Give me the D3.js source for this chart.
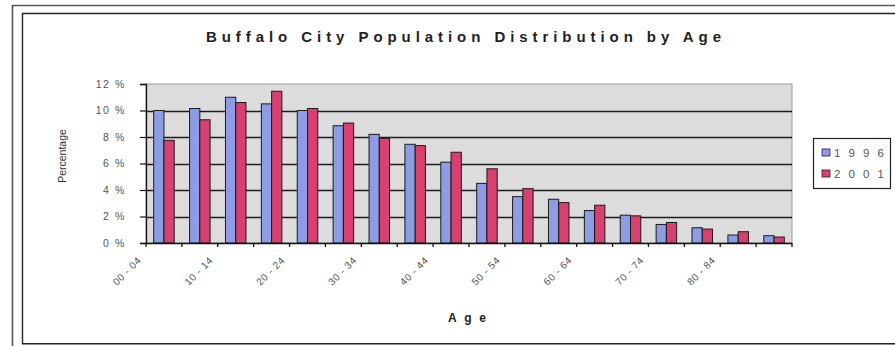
<!DOCTYPE html>
<html>
<head>
<meta charset="utf-8">
<script src="https://cdn.jsdelivr.net/npm/d3@7"></script>
<style>
  html, body { margin: 0; padding: 0; background: #fff; }
  svg { display: block; font-family: "Liberation Sans", Arial, sans-serif; }
</style>
</head>
<body>
<svg id="chart" width="895" height="346"></svg>
<script>
// Age bands (five-year groups)
const ageGroups = ["00 - 04", "05 - 09", "10 - 14", "15 - 19", "20 - 24", "25 - 29",
  "30 - 34", "35 - 39", "40 - 44", "45 - 49", "50 - 54", "55 - 59",
  "60 - 64", "65 - 69", "70 - 74", "75 - 79", "80 - 84", "85 +"];
// Share of population per age band, percent
const pop1996 = [10.0, 10.15, 11.0, 10.5, 10.0, 8.85, 8.2, 7.45, 6.1, 4.5, 3.5, 3.3, 2.45, 2.1, 1.4, 1.15, 0.6, 0.55];
const pop2001 = [7.75, 9.3, 10.6, 11.45, 10.15, 9.05, 7.9, 7.35, 6.85, 5.6, 4.1, 3.05, 2.85, 2.05, 1.55, 1.05, 0.85, 0.45];
const seriesNames = ["1996", "2001"];
const yTicks = [0, 2, 4, 6, 8, 10, 12];

const colors = { "1996": "#8e9ce6", "2001": "#d8416f" };

const svg = d3.select("#chart");
const plot = { left: 146, right: 792, top: 84, bottom: 243 };

// Page frame lines around the embedded chart
const frame = svg.append("g").attr("fill", "none");
frame.append("path").attr("d", "M12.5,346 V5.5 H895").attr("stroke", "#555").attr("stroke-width", 1.6);
frame.append("path").attr("d", "M22.5,344 V13.5 H895").attr("stroke", "#222").attr("stroke-width", 1.4);
frame.append("path").attr("d", "M22,343.8 H895").attr("stroke", "#222").attr("stroke-width", 1.6);

// Scales
const x = d3.scaleBand().domain(ageGroups).range([plot.left, plot.right]).padding(0);
const bw = x.bandwidth() / 3.5;
const xs = d3.scaleBand().domain(seriesNames)
  .range([(x.bandwidth() - 2 * bw) / 2, (x.bandwidth() + 2 * bw) / 2]).padding(0);
const y = d3.scaleLinear().domain([0, 12]).range([plot.bottom, plot.top]);

// Plot area background
svg.append("rect")
  .attr("x", plot.left).attr("y", plot.top)
  .attr("width", plot.right - plot.left).attr("height", plot.bottom - plot.top)
  .attr("fill", "#dcdcdc").attr("stroke", "#9a9a9a").attr("stroke-width", 1);

// Horizontal gridlines
svg.append("g")
  .selectAll("line").data(yTicks.filter(t => t > 0 && t < 12)).join("line")
  .attr("x1", plot.left).attr("x2", plot.right)
  .attr("y1", d => Math.round(y(d)) + 0.5).attr("y2", d => Math.round(y(d)) + 0.5)
  .attr("stroke", "#1c1c1c").attr("stroke-width", 1.3);

// Bars
const rows = ageGroups.map((g, i) => ({ group: g, values: [
  { key: "1996", value: pop1996[i] }, { key: "2001", value: pop2001[i] }] }));

svg.append("g").selectAll("g").data(rows).join("g")
  .attr("transform", d => `translate(${x(d.group)},0)`)
  .selectAll("rect").data(d => d.values).join("rect")
  .attr("x", d => xs(d.key))
  .attr("width", xs.bandwidth())
  .attr("y", d => y(d.value))
  .attr("height", d => y(0) - y(d.value))
  .attr("fill", d => colors[d.key])
  .attr("stroke", "#1a1a1a").attr("stroke-width", 1);

// Y axis
const yAxis = svg.append("g").attr("transform", `translate(${plot.left},0)`)
  .call(d3.axisLeft(y).tickValues(yTicks).tickSize(6).tickFormat(d => d + " %"));
yAxis.select(".domain").attr("stroke", "#111").attr("stroke-width", 1.3);
yAxis.selectAll(".tick line").attr("stroke", "#111").attr("stroke-width", 1.2);
yAxis.selectAll(".tick text")
  .attr("x", -20).attr("fill", "#555")
  .style("font-size", "10.5px").style("letter-spacing", "1.6px");

// X axis with ticks at band boundaries
const xAxis = svg.append("g").attr("transform", `translate(0,${plot.bottom})`);
xAxis.append("line").attr("x1", plot.left).attr("x2", plot.right)
  .attr("y1", 0.5).attr("y2", 0.5).attr("stroke", "#111").attr("stroke-width", 1.4);
const bounds = ageGroups.map(g => x(g)).concat([plot.right]);
xAxis.selectAll("line.tk").data(bounds).join("line").attr("class", "tk")
  .attr("x1", d => d).attr("x2", d => d).attr("y1", 0).attr("y2", 4)
  .attr("stroke", "#111").attr("stroke-width", 1.3);

// Every other age band is labelled, rotated
xAxis.selectAll("text").data(ageGroups.filter((g, i) => i % 2 === 0)).join("text")
  .attr("text-anchor", "end")
  .attr("transform", d => `translate(${x(d) + x.bandwidth() / 2 - 22},${18}) rotate(-45)`)
  .attr("fill", "#555")
  .style("font-size", "10px").style("letter-spacing", "0.6px")
  .text(d => d);

// Titles
svg.append("text")
  .attr("x", 463.5).attr("y", 42).attr("text-anchor", "middle")
  .attr("textLength", 515).attr("lengthAdjust", "spacing")
  .style("font-size", "15px").style("font-weight", "bold").attr("fill", "#222")
  .text("Buffalo City Population Distribution by Age");

svg.append("text")
  .attr("x", 467).attr("y", 322).attr("text-anchor", "middle")
  .attr("textLength", 38).attr("lengthAdjust", "spacing")
  .style("font-size", "12px").style("font-weight", "bold").attr("fill", "#222")
  .text("Age");

svg.append("text")
  .attr("transform", "translate(66,156) rotate(-90)")
  .attr("text-anchor", "middle")
  .style("font-size", "10.5px").attr("fill", "#333")
  .text("Percentage");

// Legend
const legend = svg.append("g");
legend.append("rect").attr("x", 813.5).attr("y", 138.5).attr("width", 77).attr("height", 50)
  .attr("fill", "#fff").attr("stroke", "#222").attr("stroke-width", 1.2);
const li = legend.selectAll("g").data(seriesNames).join("g")
  .attr("transform", (d, i) => `translate(822,${149 + i * 21})`);
li.append("rect").attr("width", 8).attr("height", 7)
  .attr("fill", d => colors[d]).attr("stroke", "#222").attr("stroke-width", 0.8);
li.append("text").attr("x", 12).attr("y", 8)
  .attr("textLength", 50).attr("lengthAdjust", "spacing")
  .style("font-size", "11.5px").attr("fill", "#555")
  .text(d => d);
</script>
</body>
</html>
